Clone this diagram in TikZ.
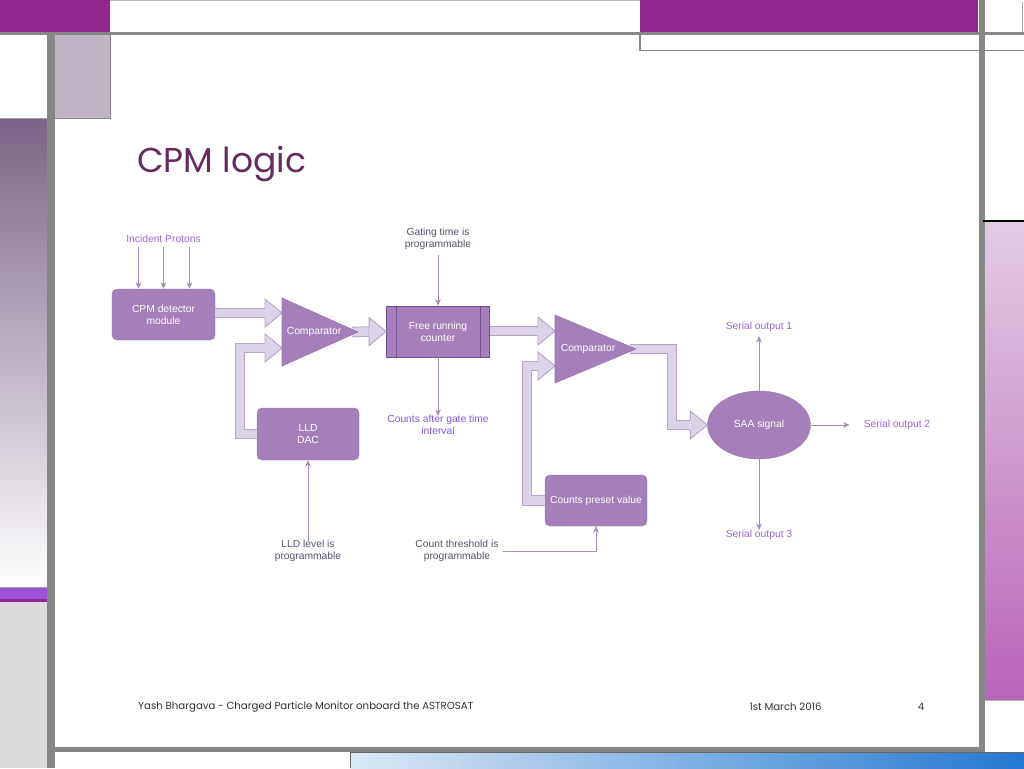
\documentclass[tikz,border=0pt]{standalone}
\usepackage{fontspec}
\setmainfont{Liberation Sans}
\newfontfamily\gothic{Poppins}
\usetikzlibrary{shapes.geometric,calc,arrows.meta}
\definecolor{magtop}{HTML}{93268F}
\definecolor{framegray}{HTML}{878787}
\definecolor{lightpg}{HTML}{C0B4C4}
\definecolor{gradtop}{HTML}{7A6486}
\definecolor{brightp}{HTML}{9B52D4}
\definecolor{lgray}{HTML}{DCDCDC}
\definecolor{rgtop}{HTML}{E4CCE4}
\definecolor{rgbot}{HTML}{B865B8}
\definecolor{blueL}{HTML}{DCE9F6}
\definecolor{blueR}{HTML}{2478D0}
\definecolor{boxfill}{HTML}{A57FB9}
\definecolor{boxdraw}{HTML}{9A73B0}
\definecolor{ctrdraw}{HTML}{7A4E96}
\definecolor{bafill}{HTML}{DDD3E8}
\definecolor{baborder}{HTML}{B6A3C8}
\definecolor{thinc}{HTML}{A58BBD}
\definecolor{lblp}{HTML}{9A66DE}
\definecolor{lblg}{HTML}{55556A}
\definecolor{titlec}{HTML}{652A62}
\definecolor{footc}{HTML}{333333}
\newcommand\bhead[1]{%
  \fill[bafill] ($(#1)+(-17,-14)$) -- (#1) -- ($(#1)+(-17,14)$) -- cycle;
  \draw[baborder,line width=0.9pt,line join=miter] ($(#1)+(-17,-5)$) -- ($(#1)+(-17,-14)$) -- (#1) -- ($(#1)+(-17,14)$) -- ($(#1)+(-17,5)$);}
\begin{document}
\begin{tikzpicture}[x=1pt,y=-1pt,
  box/.style={rectangle,rounded corners=5pt,fill=boxfill,draw=boxdraw,text=white,align=center,
    font=\fontsize{10.3}{12}\selectfont,minimum width=103pt,minimum height=51pt,inner sep=0pt},
  lbl/.style={align=center,font=\fontsize{10.3}{12}\selectfont,inner sep=2pt},
  thin/.style={draw=thinc,line width=0.8pt,-{Stealth[length=6.5pt,width=5.5pt]}},
  shaftout/.style={draw=baborder,line width=10.5pt,line join=miter},
  shaftin/.style={draw=bafill,line width=8.7pt,line join=miter},
  comp/.style={fill=boxfill,draw=boxdraw,line width=0.6pt},
  ctext/.style={text=white,font=\fontsize{10.3}{12}\selectfont,inner sep=0pt},
  foottext/.style={inner sep=0pt,text=footc,font=\gothic\fontsize{10.2}{12}\selectfont}]
\useasboundingbox (0,0) rectangle (1024,768);
\fill[white] (0,0) rectangle (1024,768);
% ---------- frame ----------
\fill[magtop] (0,0) rectangle (110,32);
\fill[magtop] (640,0) rectangle (978,32);
\draw[framegray!60,line width=0.6pt] (110,0.5) -- (640,0.5);
\draw[framegray!70,line width=0.8pt] (1022,2) -- (1022,32);
\fill[framegray] (0,32) rectangle (1024,35.5);
\draw[framegray,line width=1.6pt] (640,35) -- (640,50.5) -- (1024,50.5);
\fill[lightpg] (55,35) rectangle (110,118);
\draw[framegray,line width=1pt] (110,35) -- (110,118) -- (55,118);
\shade[top color=gradtop,bottom color=white] (0,119) rectangle (47,587);
\draw[framegray!80,line width=0.8pt] (0,118.5) -- (47,118.5);
\draw[framegray!80,line width=0.8pt] (0,587) -- (47,587);
\fill[brightp] (0,588) rectangle (47,599);
\fill[magtop] (0,599) rectangle (50,602);
\fill[lgray] (0,602) rectangle (47,768);
\fill[framegray] (47,35) rectangle (55,768);
\fill[framegray] (979,0) rectangle (984.5,750);
\draw[black,line width=1.5pt] (983,221) -- (1024,221);
\shade[top color=rgtop,bottom color=rgbot] (985,222) rectangle (1024,700);
\draw[framegray!60,line width=0.6pt] (985,700) -- (1024,700);
\fill[framegray] (47,747) rectangle (984.5,752);
\shade[left color=blueL,right color=blueR] (350,752) rectangle (1024,768);
\draw[black!60,line width=0.8pt] (350,768) -- (350,752.5) -- (1024,752.5);
% ---------- title and footer ----------
\node[anchor=west,inner sep=0pt,text=titlec,font=\gothic\fontsize{34.5}{40}\selectfont] (title) at (137,164) {CPM logic};
\node[anchor=west,foottext] (foot) at (138,707) {Yash Bhargava - Charged Particle Monitor onboard the ASTROSAT};
\node[foottext] (date) at (785.5,707) {1st March 2016};
\node[foottext] (page) at (921,707) {4};
% ---------- diagram nodes ----------
\node[box] (cpm) at (163.5,314.5) {CPM detector\\module};
\node[box,minimum width=102pt,minimum height=52pt] (lld) at (308,434) {LLD\\DAC};
\node[box,rounded corners=0pt,draw=ctrdraw,line width=0.9pt] (counter) at (438,331.5) {Free running\\counter};
\draw[ctrdraw,line width=0.9pt] ([xshift=10pt]counter.north west) -- ([xshift=10pt]counter.south west);
\draw[ctrdraw,line width=0.9pt] ([xshift=-10pt]counter.north east) -- ([xshift=-10pt]counter.south east);
\node[box,minimum width=102pt] (preset) at (596,500.5) {Counts preset value};
\node[ellipse,fill=boxfill,draw=boxdraw,text=white,font=\fontsize{10.3}{12}\selectfont,minimum width=103pt,minimum height=68pt,inner sep=0pt] (saa) at (759,425) {SAA signal};
% labels
\node[lbl,text=lblp] (protons) at (163.5,239) {Incident Protons};
\node[lbl,text=lblg] (gating) at (438,239) {Gating time is\\programmable};
\node[lbl,text=lblp!85!blue] (after) at (438,425) {Counts after gate time\\interval};
\node[lbl,text=lblg] (lldprog) at (308,551) {LLD level is\\programmable};
\node[lbl,text=lblg] (thresh) at (457,551) {Count threshold is\\programmable};
\node[lbl,text=lblp] (so1) at (759,327) {Serial output 1};
\node[lbl,text=lblp] (so2) at (897,425) {Serial output 2};
\node[lbl,text=lblp] (so3) at (759,535) {Serial output 3};
% ---------- comparators (coordinates) ----------
\coordinate (c1a) at (282,298); \coordinate (c1t) at (358,332); \coordinate (c1b) at (282,366);
\coordinate (c1in1) at (282,313); \coordinate (c1in2) at (282,348);
\coordinate (c2a) at (555,315); \coordinate (c2t) at (636,349); \coordinate (c2b) at (555,383);
\coordinate (c2in1) at (555,331); \coordinate (c2in2) at (555,366);
% ---------- block arrows ----------
\draw[shaftout] (cpm.east |- c1in1) -- ($(c1in1)+(-17,0)$);
\draw[shaftin] (cpm.east |- c1in1) -- ($(c1in1)+(-17.5,0)$);
\bhead{c1in1}
\draw[shaftout] (lld.west) -- (240,434) -- (240,348) -- ($(c1in2)+(-17,0)$);
\draw[shaftin] (lld.west) -- (240,434) -- (240,348) -- ($(c1in2)+(-17.5,0)$);
\bhead{c1in2}
\draw[shaftout] ($(c1t)+(-6,0)$) -- ($(counter.west)+(-17,0)$);
\draw[shaftin] ($(c1t)+(-6,0)$) -- ($(counter.west)+(-17.5,0)$);
\bhead{counter.west}
\draw[shaftout] (counter.east |- c2in1) -- ($(c2in1)+(-17,0)$);
\draw[shaftin] (counter.east |- c2in1) -- ($(c2in1)+(-17.5,0)$);
\bhead{c2in1}
\draw[shaftout] (preset.west) -- (527,500.5) -- (527,366) -- ($(c2in2)+(-17,0)$);
\draw[shaftin] (preset.west) -- (527,500.5) -- (527,366) -- ($(c2in2)+(-17.5,0)$);
\bhead{c2in2}
\draw[shaftout] ($(c2t)+(-6,0)$) -- (672,349) -- (672,425) -- ($(saa.west)+(-17,0)$);
\draw[shaftin] ($(c2t)+(-6,0)$) -- (672,349) -- (672,425) -- ($(saa.west)+(-17.5,0)$);
\bhead{saa.west}
% comparator triangles
\draw[comp] (c1a) -- (c1t) -- (c1b) -- cycle;
\node[ctext] (comp1) at (314,332) {Comparator};
\draw[comp] (c2a) -- (c2t) -- (c2b) -- cycle;
\node[ctext] (comp2) at (588,349) {Comparator};
% ---------- thin arrows ----------
\foreach \dx in {-25,0,26} {
  \draw[thin] ([xshift=\dx pt,yshift=-2pt]protons.south) -- ([xshift=\dx pt]protons.south |- cpm.north);
}
\draw[thin] ([yshift=-3pt]gating.south) -- (gating.south |- counter.north);
\draw[thin] (counter.south) -- ([yshift=-3pt]counter.south |- after.north);
\draw[thin] ([yshift=-3pt]lldprog.north) -- (lldprog.north |- lld.south);
\draw[thin] ([xshift=2pt]thresh.east) -- (thresh.east -| preset.south) -- (preset.south);
\draw[thin] (saa.north) -- ([yshift=-2pt]saa.north |- so1.south);
\draw[thin] (saa.east) -- ([xshift=-12pt]so2.west);
\draw[thin] (saa.south) -- ([yshift=-2pt]saa.south |- so3.north);
\end{tikzpicture}
\end{document}
